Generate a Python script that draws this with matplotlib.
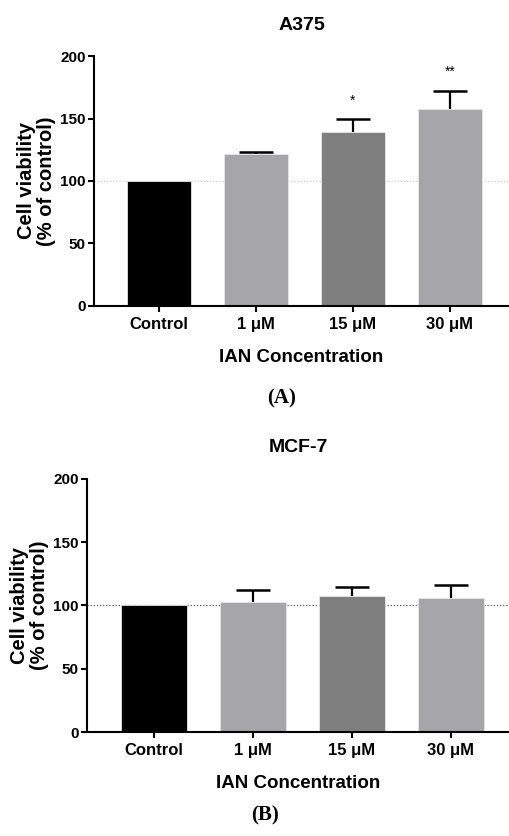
import matplotlib
matplotlib.use("Agg")
import matplotlib.pyplot as plt

plt.rcParams['font.family'] = ['Liberation Sans', 'DejaVu Sans']

# Datos
categories = ["Control", "1 μM", "15 μM", "30 μM"]
bar_colors = ["#000000", "#a5a5aa", "#7f7f7f", "#a5a5aa"]

a375_mean = [100, 121.4, 139.5, 157.4]
a375_err = [0, 2.0, 10.4, 14.9]
a375_stars = ["", "", "*", "**"]
a375_star_y = [0, 0, 164, 187]

mcf7_mean = [100, 102.5, 107.3, 105.7]
mcf7_err = [0, 9.5, 7.0, 10.5]

yticks = [0, 50, 100, 150, 200]


def draw_panel(ax, means, errs, title, title_pad, ref_color, xlim, width):
    x = list(range(len(categories)))
    ax.axhline(100, color=ref_color, linestyle=(0, (1, 1.5)), linewidth=0.9, zorder=0)
    ax.bar(x, means, width=width, color=bar_colors, edgecolor="#e6e6e6",
           linewidth=0.6, zorder=2)
    eb = ax.errorbar(x[1:], means[1:], yerr=[[0] * 3, errs[1:]], fmt="none",
                     ecolor="black", elinewidth=1.6, capsize=12, capthick=1.8, zorder=3)
    # solo la barra superior
    eb[1][0].set_visible(False)
    ax.set_xlim(*xlim)
    ax.set_ylim(0, 200)
    ax.set_yticks(yticks)
    ax.set_xticks(x)
    ax.set_xticklabels(categories, fontsize=12, fontweight="bold")
    for lab in ax.get_yticklabels():
        lab.set_fontsize(11)
        lab.set_fontweight("bold")
    for s in ["top", "right"]:
        ax.spines[s].set_visible(False)
    for s in ["left", "bottom"]:
        ax.spines[s].set_linewidth(1.5)
    ax.tick_params(width=1.5, length=4, pad=2)
    ax.tick_params(axis="x", pad=4)
    ax.set_title(title, fontsize=14, fontweight="bold", pad=title_pad)
    ax.set_xlabel("IAN Concentration", fontsize=13.5, fontweight="bold", labelpad=12)
    ax.set_ylabel("Cell viability\n(% of control)", fontsize=14.5, fontweight="bold",
                  labelpad=3, linespacing=1.05)


fig = plt.figure(figsize=(5.09, 8.36), dpi=100)

ax1 = fig.add_axes([0.1847, 0.634, 0.8153, 0.299])
draw_panel(ax1, a375_mean, a375_err, "A375", 18.5, "#cccccc", (-0.67, 3.61), 0.66)
for i, s in enumerate(a375_stars):
    if s:
        ax1.text(i, a375_star_y[i], s, ha="center", va="center", fontsize=10)

ax2 = fig.add_axes([0.171, 0.1244, 0.829, 0.303])
draw_panel(ax2, mcf7_mean, mcf7_err, "MCF-7", 19, "#555555", (-0.68, 3.59), 0.67)

fig.text(282 / 509, 1 - 398 / 836, "(A)", ha="center", va="center",
         fontsize=15, fontweight="bold", family="Liberation Serif")
fig.text(265 / 509, 1 - 815 / 836, "(B)", ha="center", va="center",
         fontsize=15, fontweight="bold", family="Liberation Serif")

fig.savefig("out.png", dpi=100)
